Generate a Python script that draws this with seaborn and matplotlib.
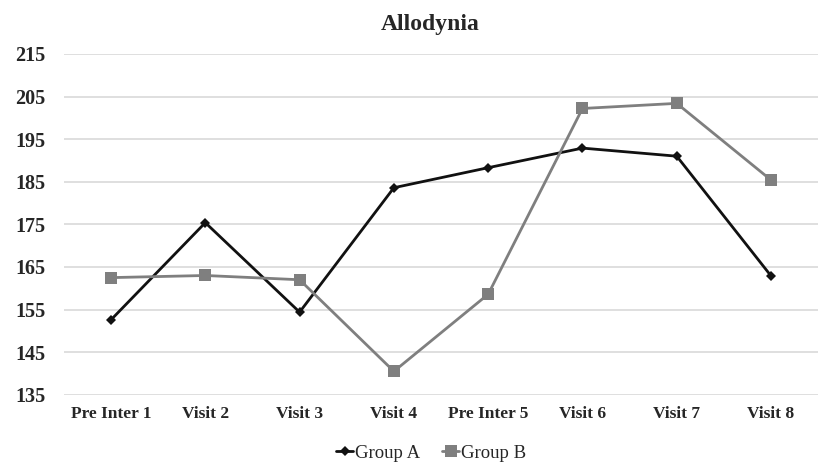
import pandas as pd
import seaborn as sns
import matplotlib.pyplot as plt

visits = ['Pre Inter 1', 'Visit 2', 'Visit 3', 'Visit 4',
          'Pre Inter 5', 'Visit 6', 'Visit 7', 'Visit 8']
group_a = [152.6, 175.4, 154.4, 183.6, 188.3, 192.9, 191.0, 162.9]
group_b = [162.5, 163.0, 162.0, 140.5, 158.6, 202.2, 203.4, 185.4]
yticks = [135, 145, 155, 165, 175, 185, 195, 205, 215]

df = pd.DataFrame({
    'visit': visits * 2,
    'value': group_a + group_b,
    'group': ['Group A'] * len(visits) + ['Group B'] * len(visits),
})

sns.set_style('white')
plt.rcParams['font.family'] = ['Liberation Serif', 'DejaVu Serif']

fig = plt.figure(figsize=(8.19, 4.65), dpi=100)
ax = fig.add_axes([0.078, 0.151, 0.921, 0.733])

for y in yticks:
    ax.axhline(y, color='#d9d9d9', linewidth=1.2, zorder=0)

sns.lineplot(data=df, x='visit', y='value', hue='group', style='group',
             palette={'Group A': '#111111', 'Group B': '#7f7f7f'},
             markers={'Group A': 'D', 'Group B': 's'},
             dashes=False, sort=False, linewidth=2,
             markersize=6, markeredgewidth=0, ax=ax, zorder=3)

# squares a bit bigger than the diamonds
for line in ax.get_lines():
    if line.get_marker() == 's':
        line.set_markersize(8)
    elif line.get_marker() == 'D':
        line.set_markersize(5)

ax.set_ylim(135, 215)
ax.set_xlim(-0.5, len(visits) - 0.5)
ax.set_yticks(yticks)
ax.set_xlabel('')
ax.set_ylabel('')
ax.tick_params(axis='both', length=0)
ax.tick_params(axis='y', pad=13)
ax.tick_params(axis='x', pad=8)
for lbl in ax.get_xticklabels():
    lbl.set_fontsize(12.5)
    lbl.set_fontweight('bold')
for lbl in ax.get_yticklabels():
    lbl.set_fontsize(14.5)
    lbl.set_fontweight('bold')
sns.despine(ax=ax, left=True, bottom=True)

fig.text(0.525, 0.935, 'Allodynia', fontsize=17, fontweight='bold', ha='center')

handles, labels = ax.get_legend_handles_labels()
ax.legend(handles, labels, loc='upper center', bbox_to_anchor=(0.487, -0.108),
          ncol=2, frameon=False, fontsize=13.5, handlelength=0.9,
          handletextpad=0.1, columnspacing=1.2, borderpad=0.2)

fig.savefig('out.png', dpi=100)
